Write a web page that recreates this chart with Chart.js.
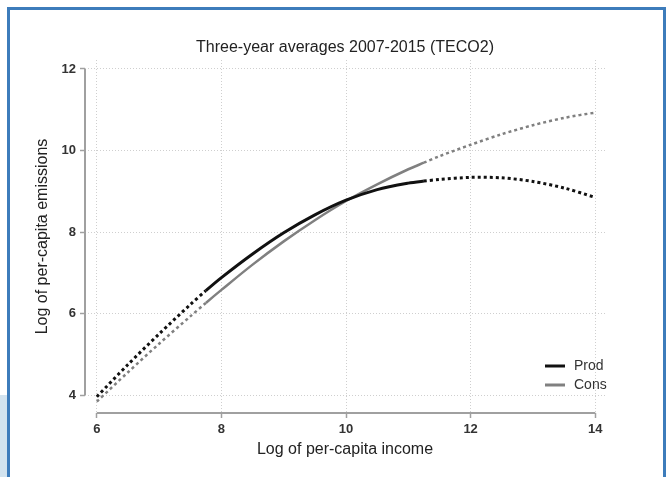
<!DOCTYPE html>
<html>
<head>
<meta charset="utf-8">
<script src="https://cdn.jsdelivr.net/npm/chart.js@4.4.1/dist/chart.umd.min.js"></script>
<style>
  html, body { margin: 0; padding: 0; background: #fff; }
  body { width: 668px; height: 477px; position: relative; overflow: hidden; }
  #strip { position: absolute; left: 0; top: 395px; width: 7px; height: 82px; background: #d2e3ef; }
  #frame { position: absolute; left: 7px; top: 7px; width: 653px; height: 480px;
           border: 3px solid #3d7cbb; border-bottom: none; }
  #chart { position: absolute; left: 0; top: 0; }
</style>
</head>
<body>
<div id="strip"></div>
<div id="frame"></div>
<canvas id="chart" width="668" height="477"></canvas>
<script>
// log of per-capita income (x) and fitted log emissions
const income = [6, 6.5, 7, 7.5, 7.75, 8, 8.5, 9, 9.5, 10, 10.5, 11, 11.25, 11.5, 12, 12.5, 13, 13.5, 14];
const prod = [3.96, 4.75, 5.50, 6.22, 6.56, 6.88, 7.46, 7.98, 8.42, 8.78, 9.04, 9.20, 9.25, 9.29, 9.34, 9.33, 9.24, 9.08, 8.85];
const cons = [3.84, 4.56, 5.26, 5.93, 6.26, 6.58, 7.20, 7.77, 8.29, 8.76, 9.17, 9.54, 9.70, 9.86, 10.14, 10.40, 10.62, 10.80, 10.93];
// solid part = inside the sample range, dotted outside
const sampleFrom = 7.75;
const sampleTo = 11.25;
const xTicks = [6, 8, 10, 12, 14];
const yTicks = [4, 6, 8, 10, 12];

Chart.defaults.font.family = "'Liberation Sans', Arial, sans-serif";

const dotted = ctx =>
    (ctx.p1.parsed.x <= sampleFrom || ctx.p0.parsed.x >= sampleTo) ? [3, 3] : undefined;

const extras = {
    id: "extras",
    beforeDatasetsDraw(chart) {
        const { ctx, chartArea, scales: { x, y } } = chart;
        ctx.save();
        ctx.strokeStyle = "#a0a0a0";
        ctx.lineWidth = 2;
        ctx.beginPath();
        ctx.moveTo(chartArea.left, y.getPixelForValue(yTicks[yTicks.length - 1]));
        ctx.lineTo(chartArea.left, y.getPixelForValue(yTicks[0]));
        ctx.moveTo(x.getPixelForValue(xTicks[0]), chartArea.bottom);
        ctx.lineTo(x.getPixelForValue(xTicks[xTicks.length - 1]), chartArea.bottom);
        ctx.stroke();
        ctx.restore();
    },
    afterDraw(chart) {
        const { ctx, chartArea } = chart;
        ctx.save();
        chart.data.datasets.forEach((ds, i) => {
            const lx = chartArea.right - 60;
            const ly = chartArea.bottom - 47 + i * 19;
            ctx.strokeStyle = ds.borderColor;
            ctx.lineWidth = 3;
            ctx.beginPath();
            ctx.moveTo(lx, ly);
            ctx.lineTo(lx + 20, ly);
            ctx.stroke();
            ctx.fillStyle = "#333";
            ctx.font = "14px 'Liberation Sans', Arial, sans-serif";
            ctx.textBaseline = "middle";
            ctx.fillText(ds.label, lx + 29, ly);
        });
        ctx.restore();
    }
};

new Chart(document.getElementById("chart"), {
    type: "line",
    data: {
        datasets: [
            {
                label: "Prod",
                data: income.map((v, i) => ({ x: v, y: prod[i] })),
                borderColor: "#111111",
                borderWidth: 3,
                tension: 0.3,
                pointRadius: 0,
                segment: { borderDash: dotted }
            },
            {
                label: "Cons",
                data: income.map((v, i) => ({ x: v, y: cons[i] })),
                borderColor: "#808080",
                borderWidth: 2.5,
                tension: 0.3,
                pointRadius: 0,
                segment: { borderDash: dotted }
            }
        ]
    },
    options: {
        responsive: false,
        animation: false,
        layout: { padding: { left: 0, right: 63, top: 0, bottom: 0 } },
        plugins: {
            legend: { display: false },
            tooltip: { enabled: false },
            title: {
                display: true,
                text: "Three-year averages 2007-2015 (TECO2)",
                fullSize: false,
                color: "#222",
                font: { size: 16, weight: "normal" },
                padding: { top: 38.4, bottom: 2.4 }
            }
        },
        scales: {
            x: {
                type: "linear",
                min: 5.81,
                max: 14.157,
                afterBuildTicks: s => { s.ticks = xTicks.map(v => ({ value: v })); },
                afterFit: s => { s.height = 64; },
                ticks: { color: "#333", font: { size: 13, weight: "bold" }, padding: 4 },
                grid: { color: "#cfcfcf", tickColor: "#a0a0a0", tickLength: 5, tickWidth: 1.5 },
                border: { display: false, dash: [1, 2] },
                title: {
                    display: true,
                    text: "Log of per-capita income",
                    color: "#222",
                    font: { size: 16 },
                    padding: { top: 0, bottom: 18 }
                }
            },
            y: {
                type: "linear",
                min: 3.56,
                max: 12.22,
                afterBuildTicks: s => { s.ticks = yTicks.map(v => ({ value: v })); },
                afterFit: s => { s.width = 85; },
                ticks: { color: "#333", font: { size: 13, weight: "bold" }, padding: 4 },
                grid: { color: "#cfcfcf", tickColor: "#a0a0a0", tickLength: 5, tickWidth: 1.5 },
                border: { display: false, dash: [1, 2] },
                title: {
                    display: true,
                    text: "Log of per-capita emissions",
                    color: "#222",
                    font: { size: 16 },
                    padding: { top: 33, bottom: 0 }
                }
            }
        }
    },
    plugins: [extras]
});
</script>
</body>
</html>
